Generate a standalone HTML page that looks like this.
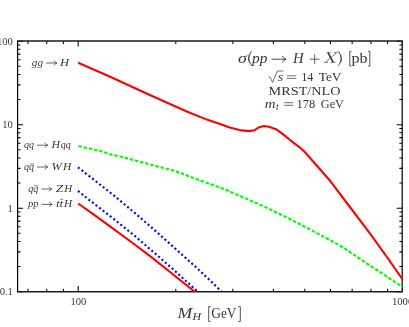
<!DOCTYPE html>
<html><head><meta charset="utf-8"><style>
html,body{margin:0;padding:0;background:#fff;}
svg{display:block;}
text{font-family:"Liberation Serif",serif;fill:#363636;}
.i{font-style:italic;}
</style></head><body>
<svg width="409" height="327" viewBox="0 0 409 327">
<rect width="409" height="327" fill="#fff"/>
<defs><filter id="f" x="0" y="0" width="409" height="327" filterUnits="userSpaceOnUse"><feOffset dx="0" dy="0"/></filter><clipPath id="c"><rect x="17.6" y="41.0" width="385.25" height="251.10000000000002"/></clipPath></defs>
<path d="M27.98 291.6v-2.9M27.98 41.0v2.9M46.78 291.6v-2.9M46.78 41.0v2.9M63.37 291.6v-2.9M63.37 41.0v2.9M78.20 291.6v-5.5M78.20 41.0v5.5M175.79 291.6v-2.9M175.79 41.0v2.9M232.88 291.6v-2.9M232.88 41.0v2.9M273.39 291.6v-2.9M273.39 41.0v2.9M304.81 291.6v-2.9M304.81 41.0v2.9M330.48 291.6v-2.9M330.48 41.0v2.9M352.18 291.6v-2.9M352.18 41.0v2.9M370.98 291.6v-2.9M370.98 41.0v2.9M387.57 291.6v-2.9M387.57 41.0v2.9M402.40 291.6v-5.5M402.40 41.0v5.5M17.6 291.70h5.5M402.25 291.70h-5.5M17.6 266.56h2.9M402.25 266.56h-2.9M17.6 251.86h2.9M402.25 251.86h-2.9M17.6 241.43h2.9M402.25 241.43h-2.9M17.6 233.34h2.9M402.25 233.34h-2.9M17.6 226.72h2.9M402.25 226.72h-2.9M17.6 221.13h2.9M402.25 221.13h-2.9M17.6 216.29h2.9M402.25 216.29h-2.9M17.6 212.02h2.9M402.25 212.02h-2.9M17.6 208.20h5.5M402.25 208.20h-5.5M17.6 183.06h2.9M402.25 183.06h-2.9M17.6 168.36h2.9M402.25 168.36h-2.9M17.6 157.93h2.9M402.25 157.93h-2.9M17.6 149.84h2.9M402.25 149.84h-2.9M17.6 143.22h2.9M402.25 143.22h-2.9M17.6 137.63h2.9M402.25 137.63h-2.9M17.6 132.79h2.9M402.25 132.79h-2.9M17.6 128.52h2.9M402.25 128.52h-2.9M17.6 124.70h5.5M402.25 124.70h-5.5M17.6 99.56h2.9M402.25 99.56h-2.9M17.6 84.86h2.9M402.25 84.86h-2.9M17.6 74.43h2.9M402.25 74.43h-2.9M17.6 66.34h2.9M402.25 66.34h-2.9M17.6 59.72h2.9M402.25 59.72h-2.9M17.6 54.13h2.9M402.25 54.13h-2.9M17.6 49.29h2.9M402.25 49.29h-2.9M17.6 45.02h2.9M402.25 45.02h-2.9M17.6 41.20h5.5M402.25 41.20h-5.5" stroke="#000" stroke-width="1.05" fill="none"/>
<path d="M17.6 40.4V292.20000000000005" stroke="#000" stroke-width="1.2" fill="none"/>
<path d="M17.6 41.0H402.85M17.6 291.75H402.85M402.25 41.0V291.6" stroke="#1c1c1c" stroke-width="1.35" fill="none"/>
<g clip-path="url(#c)" fill="none" stroke-width="2.1" stroke-linejoin="round">
<path d="M78.2 62.7 L109.1 76.2 L148.2 94.2 L187.4 111.8 L206.9 119.6 L220.0 124.1 L229.8 127.6 L239.6 130.1 L249.3 131.1 L254.2 130.3 L259.1 127.2 L264.0 126.0 L268.9 126.8 L276.7 129.6 L282.6 133.9 L290.4 140.3 L300.0 147.6 L304.8 152.0 L330.5 181.3 L352.2 210.0 L371.0 234.8 L387.6 258.0 L402.6 279.4" stroke="#ff0000"/>
<path d="M78.4 146.1 L99.3 150.6 L111.1 154.6 L118.9 156.1 L140.0 161.7 L150.0 164.4 L175.4 171.0 L198.9 180.0 L225.0 189.3 L244.6 198.0 L264.1 206.5 L283.7 215.9 L300.0 224.2 L314.1 231.6 L328.1 239.0 L341.9 246.7 L350.0 252.0 L362.4 260.5 L377.0 270.0 L391.7 279.8 L402.7 287.2" stroke="#00ff00" stroke-dasharray="3.5 1.8"/>
<path d="M78.0 167.3 L94.9 180.6 L113.8 195.4 L134.7 212.9 L154.6 230.1 L172.8 246.4 L194.2 265.6 L209.1 279.5 L221.5 291.5 L223.6 293.5" stroke="#0000ff" stroke-dasharray="2 2.5"/>
<path d="M78.0 190.9 L94.9 204.4 L114.8 219.8 L134.7 235.8 L151.4 250.3 L172.8 269.0 L195.2 289.4 L199.6 293.5" stroke="#0000ff" stroke-dasharray="2 2.5"/>
<path d="M78.2 203.5 L94.9 215.3 L114.8 229.8 L134.7 244.5 L151.4 257.1 L172.8 274.2 L194.2 291.3 L197.0 293.6" stroke="#ff0000"/>
</g>
<g filter="url(#f)">
<g font-size="10.6">
<text x="12.9" y="44.7" text-anchor="end">100</text>
<text x="12.9" y="128.1" text-anchor="end">10</text>
<text x="12.9" y="211.8" text-anchor="end">1</text>
<text x="12.9" y="295.4" text-anchor="end">0.1</text>
<text x="78.4" y="305.0" text-anchor="middle">100</text>
<text x="402.6" y="305.0" text-anchor="middle">1000</text>
</g>
<text x="31.8" y="65.5" font-size="10.3" textLength="11.2" lengthAdjust="spacingAndGlyphs" class="i">gg</text>
<path d="M46.5 63.0H56.7M54.0 60.9Q55.4 62.4 56.7 63.0Q55.4 63.6 54.0 65.1" stroke="#333" stroke-width="0.75" fill="none" stroke-linecap="round"/>
<text x="59.9" y="65.5" font-size="10.3" textLength="9.0" lengthAdjust="spacingAndGlyphs" class="i">H</text>
<text x="23.9" y="147.8" font-size="10.3" textLength="10.1" lengthAdjust="spacingAndGlyphs" class="i">qq</text>
<path d="M37.3 145.2H47.6M44.9 143.1Q46.3 144.6 47.6 145.2Q46.3 145.8 44.9 147.3" stroke="#333" stroke-width="0.75" fill="none" stroke-linecap="round"/>
<text x="51.5" y="147.8" font-size="10.3" textLength="8.5" lengthAdjust="spacingAndGlyphs" class="i">H</text>
<text x="60.8" y="147.8" font-size="10.3" textLength="10.0" lengthAdjust="spacingAndGlyphs" class="i">qq</text>
<text x="23.9" y="169.8" font-size="10.3" textLength="10.1" lengthAdjust="spacingAndGlyphs" class="i">qq</text>
<path d="M30.0 163.9L33.9 163.9" stroke="#333" stroke-width="0.6" fill="none"/>
<path d="M37.3 167.0H47.6M44.9 164.9Q46.3 166.4 47.6 167.0Q46.3 167.6 44.9 169.1" stroke="#333" stroke-width="0.75" fill="none" stroke-linecap="round"/>
<text x="51.5" y="169.8" font-size="10.3" textLength="10.3" lengthAdjust="spacingAndGlyphs" class="i">W</text>
<text x="63.0" y="169.8" font-size="10.3" textLength="8.3" lengthAdjust="spacingAndGlyphs" class="i">H</text>
<text x="28.2" y="191.6" font-size="10.3" textLength="10.1" lengthAdjust="spacingAndGlyphs" class="i">qq</text>
<path d="M34.2 185.7L38.1 185.7" stroke="#333" stroke-width="0.6" fill="none"/>
<path d="M41.7 189.0H51.7M49.0 186.9Q50.4 188.4 51.7 189.0Q50.4 189.6 49.0 191.1" stroke="#333" stroke-width="0.75" fill="none" stroke-linecap="round"/>
<text x="55.7" y="191.6" font-size="10.3" textLength="7.6" lengthAdjust="spacingAndGlyphs" class="i">Z</text>
<text x="64.2" y="191.6" font-size="10.3" textLength="7.9" lengthAdjust="spacingAndGlyphs" class="i">H</text>
<text x="28.0" y="207.0" font-size="10.3" textLength="10.6" lengthAdjust="spacingAndGlyphs" class="i">pp</text>
<path d="M42.0 204.4H52.0M49.3 202.3Q50.7 203.8 52.0 204.4Q50.7 205.0 49.3 206.5" stroke="#333" stroke-width="0.75" fill="none" stroke-linecap="round"/>
<text x="55.9" y="207.0" font-size="10.3" textLength="7.4" lengthAdjust="spacingAndGlyphs" class="i">tt</text>
<path d="M60.2 199.4L63.0 199.4" stroke="#333" stroke-width="0.6" fill="none"/>
<text x="64.0" y="207.0" font-size="10.3" textLength="8.1" lengthAdjust="spacingAndGlyphs" class="i">H</text>
<text x="237.9" y="62.6" font-size="14.4" textLength="8.9" lengthAdjust="spacingAndGlyphs" class="i">σ</text>
<text x="252.1" y="62.6" font-size="14.4" textLength="15.4" lengthAdjust="spacingAndGlyphs" class="i">pp</text>
<path d="M271.9 59.2H285.9M282.3 56.4Q284.2 58.4 285.9 59.2Q284.2 60.0 282.3 62.0" stroke="#333" stroke-width="0.9" fill="none" stroke-linecap="round"/>
<text x="293.0" y="62.6" font-size="14.4" textLength="10.6" lengthAdjust="spacingAndGlyphs" class="i">H</text>
<path d="M251.7 50.9Q244.6 58.5 251.7 66.1Q246.6 58.5 251.7 50.9Z" fill="#333" stroke="#333" stroke-width="0.35"/>
<path d="M338.2 50.9Q345.3 58.5 338.2 66.1Q343.3 58.5 338.2 50.9Z" fill="#333" stroke="#333" stroke-width="0.35"/>
<path d="M309.9 59.2H319.4M314.65 54.4V64" stroke="#333" stroke-width="0.8" fill="none"/>
<path d="M328.0 52.7L333.2 62.3" stroke="#2a2a2a" stroke-width="1.5" fill="none"/>
<path d="M336.3 52.9L325.7 62.1M326.6 52.7H330.8M334.0 52.7H337.6M324.0 62.3H328.0M330.8 62.3H335.6" stroke="#333" stroke-width="0.65" fill="none"/>
<text x="351.6" y="62.6" font-size="14.4" textLength="16.0" lengthAdjust="spacingAndGlyphs">pb</text>
<path d="M351.4 51.4H349.8V66.0H351.4M368.1 51.4H369.8V66.0H368.1" stroke="#333" stroke-width="0.85" fill="none"/>
<path d="M268.6 77.6L269.8 76.9L272.6 82.4L277.4 71.0H283.4" stroke="#333" stroke-width="0.7" fill="none" stroke-linejoin="miter"/>
<text x="278.0" y="80.8" font-size="12.6" textLength="5.2" lengthAdjust="spacingAndGlyphs" class="i">s</text>
<path d="M286.8 75.8H296.3M286.8 78.4H296.3" stroke="#333" stroke-width="0.7" fill="none"/>
<text x="301.2" y="80.8" font-size="12.6" textLength="12.2" lengthAdjust="spacingAndGlyphs">14</text>
<text x="318.7" y="80.8" font-size="12.6" textLength="22.7" lengthAdjust="spacingAndGlyphs">TeV</text>
<text x="268.6" y="94.5" font-size="12.6" textLength="72.0" lengthAdjust="spacingAndGlyphs">MRST/NLO</text>
<text x="264.8" y="108.0" font-size="12.6" textLength="10.8" lengthAdjust="spacingAndGlyphs" class="i">m</text>
<text x="276.0" y="109.7" font-size="9.5" class="i">t</text>
<path d="M283.8 102.7H293.3M283.8 105.3H293.3" stroke="#333" stroke-width="0.7" fill="none"/>
<text x="296.5" y="108.0" font-size="12.6" textLength="18.9" lengthAdjust="spacingAndGlyphs">178</text>
<text x="320.8" y="108.0" font-size="12.6" textLength="23.2" lengthAdjust="spacingAndGlyphs">GeV</text>
<text x="177.6" y="317.7" font-size="14.4" textLength="14.8" lengthAdjust="spacingAndGlyphs" class="i">M</text>
<text x="192.4" y="319.9" font-size="10.3" textLength="8.6" lengthAdjust="spacingAndGlyphs" class="i">H</text>
<text x="211.3" y="317.7" font-size="14.4" textLength="25.1" lengthAdjust="spacingAndGlyphs">GeV</text>
<path d="M210.7 306.6H208.7V321.4H210.7M238.3 306.6H240.3V321.4H238.3" stroke="#333" stroke-width="0.85" fill="none"/>
</g>
</svg>
</body></html>
